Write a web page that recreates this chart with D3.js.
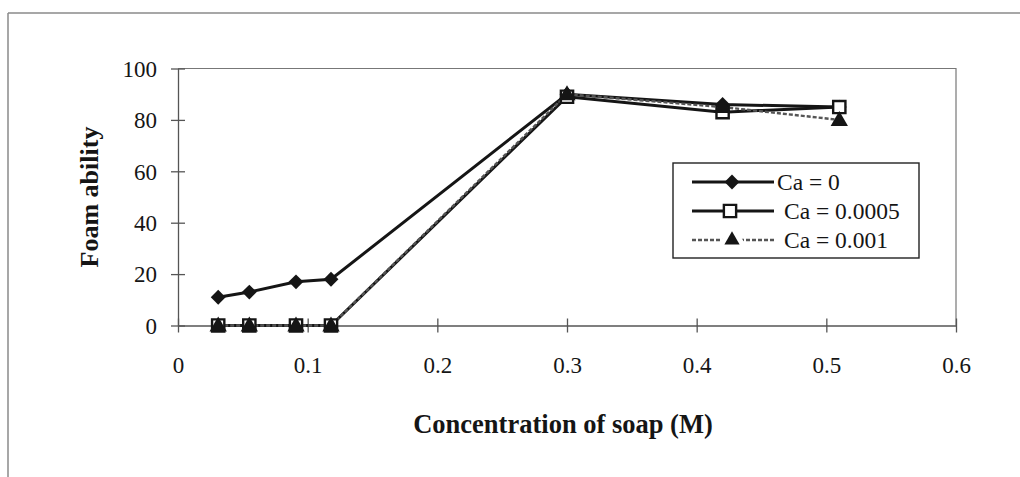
<!DOCTYPE html>
<html>
<head>
<meta charset="utf-8">
<script src="https://cdn.jsdelivr.net/npm/d3@7"></script>
<style>
  html, body { margin: 0; padding: 0; background: #fff; }
  svg { display: block; }
</style>
</head>
<body>
<svg id="chart" width="1020" height="477" font-family="Liberation Serif, Times New Roman, serif"></svg>
<script>
// ---- data ----
const concentration = [0.031, 0.055, 0.091, 0.118, 0.3, 0.42, 0.51];
const ca0      = [11, 13, 17, 18, 90, 86, 85];
const ca00005  = [0, 0, 0, 0, 89, 83, 85];
const ca0001   = [0, 0, 0, 0, 90, 85, 80];
const seriesNames = ["Ca = 0", "Ca = 0.0005", "Ca = 0.001"];
const xTickValues = [0, 0.1, 0.2, 0.3, 0.4, 0.5, 0.6];
const xTickLabels = ["0", "0.1", "0.2", "0.3", "0.4", "0.5", "0.6"];
const yTickValues = [0, 20, 40, 60, 80, 100];
const xTitle = "Concentration of soap (M)";
const yTitle = "Foam ability";

const FONT = "Liberation Serif";
const INK = "#151515";

// ---- layout ----
const svg = d3.select("#chart");
const plot = { left: 178, right: 956, top: 68.5, bottom: 325.5 };
const x = d3.scaleLinear().domain([0, 0.6]).range([plot.left, plot.right]);
const y = d3.scaleLinear().domain([0, 100]).range([plot.bottom, plot.top]);

// outer frame (scanned page border)
svg.append("line").attr("x1", 8).attr("y1", 13).attr("x2", 1020).attr("y2", 13)
  .attr("stroke", "#8a8a8a").attr("stroke-width", 1.5);
svg.append("line").attr("x1", 8).attr("y1", 13).attr("x2", 8).attr("y2", 477)
  .attr("stroke", "#8a8a8a").attr("stroke-width", 1.5);

// plot area border (top & right)
svg.append("path")
  .attr("d", `M${plot.left},${plot.top}H${plot.right}V${plot.bottom}`)
  .attr("fill", "none").attr("stroke", "#777").attr("stroke-width", 1.2);

// axes
const xAxis = d3.axisBottom(x).tickValues(xTickValues)
  .tickFormat((d, i) => xTickLabels[i]).tickSize(0).tickPadding(0);
const gx = svg.append("g").attr("transform", `translate(0,${plot.bottom})`).call(xAxis)
  .attr("font-family", FONT).attr("font-size", 23);
gx.select(".domain").attr("stroke", "#555").attr("stroke-width", 1.3);
gx.selectAll(".tick line").attr("y1", -7).attr("y2", 7).attr("stroke", "#555").attr("stroke-width", 1.3);
gx.selectAll(".tick text").attr("y", 47).attr("dy", null).attr("fill", INK);

const yAxis = d3.axisLeft(y).tickValues(yTickValues).tickSize(0).tickPadding(0);
const gy = svg.append("g").attr("transform", `translate(${plot.left},0)`).call(yAxis)
  .attr("font-family", FONT).attr("font-size", 23);
gy.select(".domain").attr("stroke", "#555").attr("stroke-width", 1.3);
gy.selectAll(".tick line").attr("x1", -7).attr("x2", 7).attr("stroke", "#555").attr("stroke-width", 1.3);
gy.selectAll(".tick text").attr("x", -21).attr("dy", "0.34em").attr("fill", INK);

// titles
svg.append("text").attr("x", 563).attr("y", 433).attr("text-anchor", "middle")
  .attr("font-family", FONT).attr("font-size", 26.5).attr("font-weight", "bold").attr("fill", INK)
  .text(xTitle);
svg.append("text").attr("transform", "translate(98,197) rotate(-90)").attr("text-anchor", "middle")
  .attr("font-family", FONT).attr("font-size", 26).attr("font-weight", "bold").attr("fill", INK)
  .text(yTitle);

// ---- series ----
const line = d3.line().x(d => x(d[0])).y(d => y(d[1]));
const pts = vals => concentration.map((c, i) => [c, vals[i]]);

svg.append("path").datum(pts(ca00005)).attr("d", line)
  .attr("fill", "none").attr("stroke", INK).attr("stroke-width", 3);
svg.append("path").datum(pts(ca0)).attr("d", line)
  .attr("fill", "none").attr("stroke", INK).attr("stroke-width", 3);
svg.append("path").datum(pts(ca0001)).attr("d", line)
  .attr("fill", "none").attr("stroke", "#555").attr("stroke-width", 2.4)
  .attr("stroke-dasharray", "4,2");

const diamond = d3.symbol().type(d3.symbolDiamond2).size(140);
const square = d3.symbol().type(d3.symbolSquare).size(150);
const triangle = d3.symbol().type(d3.symbolTriangle).size(100);
const triangleBig = d3.symbol().type(d3.symbolTriangle).size(130);

svg.append("g").selectAll("path").data(pts(ca0)).join("path")
  .attr("transform", d => `translate(${x(d[0])},${y(d[1])})`)
  .attr("d", diamond).attr("fill", INK);
svg.append("g").selectAll("path").data(pts(ca00005)).join("path")
  .attr("transform", d => `translate(${x(d[0])},${y(d[1])})`)
  .attr("d", square).attr("fill", "#fff").attr("stroke", INK).attr("stroke-width", 2.4);
svg.append("g").selectAll("path").data(pts(ca0001)).join("path")
  .attr("transform", d => `translate(${x(d[0])},${y(d[1]) + 1})`)
  .attr("d", triangleBig).attr("fill", INK);

// ---- legend ----
const lg = svg.append("g").attr("font-family", FONT).attr("font-size", 23.5).attr("fill", INK);
lg.append("rect").attr("x", 673).attr("y", 163).attr("width", 246).attr("height", 95)
  .attr("fill", "#fff").attr("stroke", "#222").attr("stroke-width", 1.4);
const rows = [182, 211, 240];
// row 1
lg.append("line").attr("x1", 692).attr("x2", 774).attr("y1", rows[0]).attr("y2", rows[0])
  .attr("stroke", INK).attr("stroke-width", 3);
lg.append("path").attr("transform", `translate(732,${rows[0]})`).attr("d", diamond).attr("fill", INK);
lg.append("text").attr("x", 777).attr("y", rows[0] + 8).text(seriesNames[0]);
// row 2
lg.append("line").attr("x1", 692).attr("x2", 774).attr("y1", rows[1]).attr("y2", rows[1])
  .attr("stroke", INK).attr("stroke-width", 3);
lg.append("path").attr("transform", `translate(730,${rows[1]})`).attr("d", square)
  .attr("fill", "#fff").attr("stroke", INK).attr("stroke-width", 2.4);
lg.append("text").attr("x", 784).attr("y", rows[1] + 8).text(seriesNames[1]);
// row 3
lg.append("line").attr("x1", 692).attr("x2", 774).attr("y1", rows[2]).attr("y2", rows[2])
  .attr("stroke", "#555").attr("stroke-width", 2.4).attr("stroke-dasharray", "4,2");
lg.append("path").attr("transform", `translate(732,${rows[2]})`).attr("d", triangle).attr("fill", "#fff")
  .attr("stroke", "#fff").attr("stroke-width", 10);
lg.append("path").attr("transform", `translate(732,${rows[2]})`).attr("d", triangle).attr("fill", INK);
lg.append("text").attr("x", 784).attr("y", rows[2] + 8).text(seriesNames[2]);
</script>
</body>
</html>
